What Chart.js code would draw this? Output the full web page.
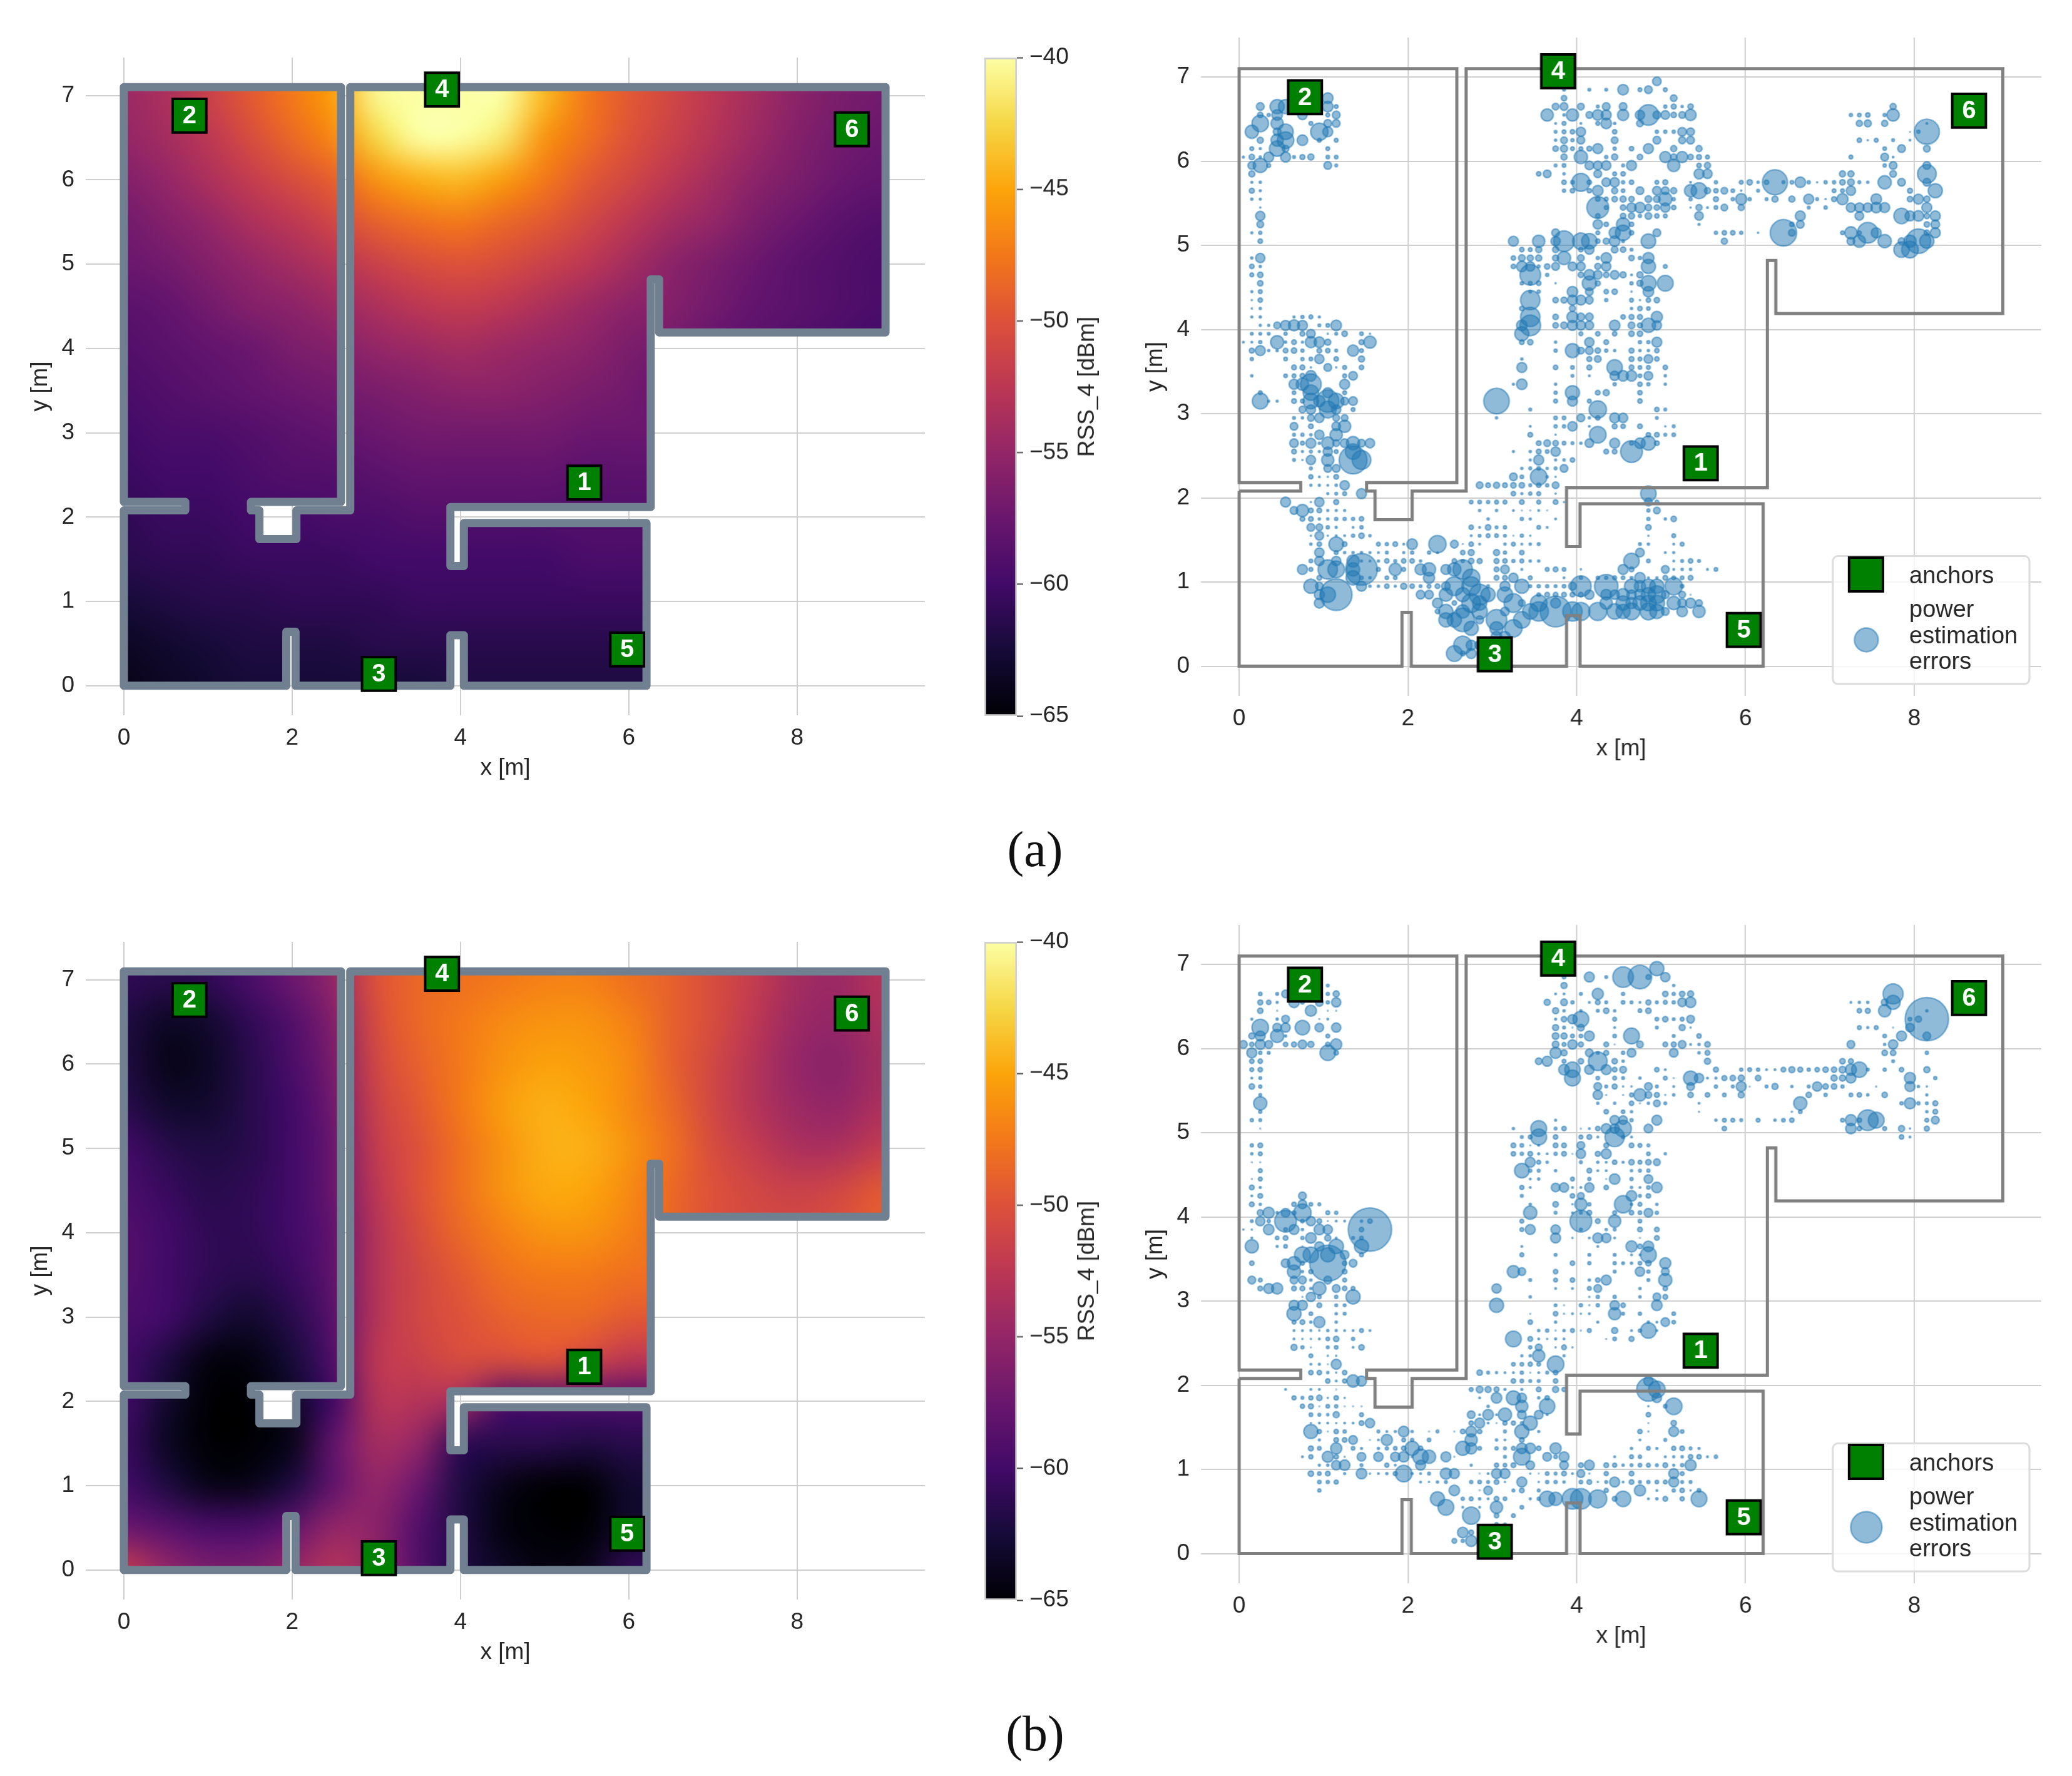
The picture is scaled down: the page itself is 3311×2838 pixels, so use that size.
<!DOCTYPE html>
<html>
<head>
<meta charset="utf-8">
<style>
  body { margin: 0; background: #fff; }
  #page { position: relative; width: 3311px; height: 2838px; overflow: hidden; }
  canvas { position: absolute; }
  .caption { position: absolute; width: 200px; text-align: center; font: 80px "Liberation Serif", serif; color: #111; }
</style>
<script src="https://cdn.jsdelivr.net/npm/chart.js@4/dist/chart.umd.min.js"></script>
</head>
<body>
<div id="page">
  <canvas id="heatA"></canvas><canvas id="barA"></canvas><canvas id="errA"></canvas>
  <canvas id="heatB"></canvas><canvas id="barB"></canvas><canvas id="errB"></canvas>
  <div class="caption" style="left:1554px;top:1312px">(a)</div>
  <div class="caption" style="left:1554px;top:2725px">(b)</div>
</div>
<script>
// floor plan outline [m]
const wallX = [0,0.73,0.73,0,0,2.58,2.58,1.51,1.51,1.61,1.61,2.05,2.05,2.69,2.69,9.05,9.05,6.36,6.36,6.26,6.26,3.88,3.88,4.04,4.04,6.21,6.21,4.04,4.04,3.88,3.88,2.04,2.04,1.93,1.93,0,0];
const wallY = [2.08,2.08,2.18,2.18,7.1,7.1,2.18,2.18,2.08,2.08,1.74,1.74,2.08,2.08,7.1,7.1,4.19,4.19,4.82,4.82,2.12,2.12,1.42,1.42,1.93,1.93,0,0,0.6,0.6,0,0,0.64,0.64,0,0,2.08];

const anchorNames = ["1","2","3","4","5","6"];
const anchorX = [5.47,0.78,3.03,3.78,5.98,8.65];
const anchorY = [2.41,6.76,0.14,7.07,0.43,6.6];

const colorbarTicks = [-65,-60,-55,-50,-45,-40];
const infernoStops = ["#000004","#160b39","#420a68","#6a176e","#932667","#bc3754","#dd513a","#f37819","#fca50a","#f6d746","#fcffa4"];

// RSS_4, one row per y, x = 0, 0.5 ... 9 (rows stop where the building ends)
const gridXs = [0,0.5,1,1.5,2,2.5,3,3.5,4,4.5,5,5.5,6,6.5,7,7.5,8,8.5,9];
const gridYs = [7,6.5,6,5.5,5,4.5,4,3.5,3,2.5,2,1.5,1,0.5,0];
const rssA = [
  [-54.5,-53.5,-51.5,-49.5,-47.5,-45.2,-40.5,-38.5,-38,-39.5,-44,-47.5,-49.5,-51,-52.5,-54,-55.5,-56.5,-57],
  [-55,-54,-52.5,-50.5,-48.5,-46.5,-42.5,-39.5,-39.5,-41.5,-46,-48,-50,-51.5,-53,-54.5,-56,-57,-57.5],
  [-56,-55,-53.5,-52,-50.5,-49,-46,-44.5,-44,-45.5,-47.5,-49.5,-51,-52.5,-54,-55.5,-56.5,-57.5,-58],
  [-57,-56,-55,-53.5,-52.5,-51,-49,-48,-47.5,-48.5,-49.5,-51,-52.5,-54,-55,-56.5,-57.5,-58.5,-59],
  [-57.5,-57,-56,-55,-54,-53,-51.5,-50.5,-50,-50.5,-51.5,-52.5,-54,-55.5,-56.5,-57.5,-58.5,-59,-59.5],
  [-58.5,-58,-57,-56,-55.5,-54.5,-53.5,-52.5,-52,-52.5,-53.5,-54.5,-55.5,-56,-57,-58,-58.5,-59,-59.5],
  [-59,-58.5,-58,-57.5,-56.5,-56,-55,-54.5,-54,-54.5,-55,-55.5,-56.5,-57,-58,-58.5,-59,-59.5,-60],
  [-59.5,-59,-58.5,-58,-57.5,-57,-56.5,-56,-55.5,-55.5,-56,-56.5,-57,-58],
  [-60,-59.5,-59.5,-59,-58.5,-58,-57.5,-57,-57,-57,-57,-57.5,-57.5],
  [-60.5,-60,-60,-59.5,-59,-59,-58.5,-58,-58,-58,-58,-58.5,-58.5],
  [-61,-60.5,-60.5,-60,-60,-59.5,-59.5,-59,-59,-59,-59,-59,-59],
  [-61.5,-61,-61,-60.5,-60.5,-60.5,-60,-60,-60,-60,-60,-59.5,-59.5],
  [-62.5,-62,-61.5,-61.5,-61,-61,-61,-60.5,-60.5,-60.5,-60.5,-60.5,-60.5],
  [-63.5,-63,-62.5,-62,-62,-62,-61.5,-61.5,-61.5,-61.5,-61.5,-61.5,-61.5],
  [-64,-63.5,-63,-62.5,-62.5,-62.5,-62.5,-62.5,-62,-62,-62,-62,-62]
];
const rssB = [
  [-61,-61.5,-61,-59.5,-57.5,-55,-50,-48.5,-48,-47.5,-47,-47,-48,-49,-50.5,-52,-54,-54.5,-53],
  [-62,-63.5,-63,-61,-59,-56,-50.5,-48.5,-47.5,-46.5,-46,-46,-47,-49,-50.5,-52.5,-54.5,-55,-53.5],
  [-62,-64,-63.5,-61.5,-59.5,-56.5,-51,-49,-47.5,-46,-45.2,-45.5,-46.5,-49,-51,-53,-55,-55.5,-54],
  [-61.5,-63,-63,-61.5,-60,-57,-51.5,-49.5,-47.5,-45.5,-44.5,-45,-46.5,-48.5,-51,-53,-54.5,-55,-53.5],
  [-60,-61.5,-62,-61.5,-60,-57.5,-52,-50,-48,-46,-44.5,-44.5,-46,-48,-50.5,-52,-53.5,-53.5,-52],
  [-59.5,-60.5,-61.5,-61,-60,-57.5,-52.5,-50,-48,-46,-44.8,-45,-46.5,-48.5,-50,-51,-51.5,-51,-49.5],
  [-59,-60,-61,-61,-60,-58,-53,-50.5,-48.5,-47,-46,-46,-47,-48.5,-50,-50.5,-50.5,-50,-49],
  [-59,-60,-61,-61.5,-60.5,-58,-53,-51,-49.5,-48,-47.5,-47.5,-48],
  [-59.5,-60,-62,-63,-61.5,-58.5,-53,-51,-50,-49,-48.5,-48.5,-49.5],
  [-60,-62,-64.5,-64.5,-62.5,-59,-52.5,-51.5,-50.5,-50.5,-50,-51,-52.5],
  [-60,-63,-65,-65,-63.5,-60,-53,-53,-54,-59,-59,-59,-59],
  [-60.5,-63.5,-65,-65,-64,-58,-54,-55,-61,-61.5,-61.5,-62,-61.5],
  [-60,-62,-64,-64,-62,-58,-55,-57.5,-62,-64,-65,-65,-63],
  [-57.5,-58.5,-59.5,-59.5,-58,-55,-55.5,-59,-62,-64.5,-65,-65,-63],
  [-52,-55,-56.5,-56.5,-55,-53,-55,-59,-62,-63.5,-64.5,-64,-61]
];

// power estimation errors: [row, col, err, col, err ...], x = 0.05 + col/10, y = 0.05 + row/10
const errA = [
  [69, 49,3],
  [68, 38,.3, 41,.3, 43,.3, 45,4.5, 47,.6, 48,2.4, 50,.6],
  [67, 10,4.5, 38,1.2, 51,1.8],
  [66, 2,2.4, 4,8, 5,8, 10,4.5, 11,.6, 37,1.8, 38,2.4, 40,1.8, 42,.3, 43,2.4, 45,2.4, 50,.4, 51,1, 52,.2, 53,1.2, 77,1.5],
  [65, 2,1.2, 3,.4, 4,4.5, 7,3.5, 10,.6, 11,2.4, 36,6, 38,.2, 39,6, 41,1.8, 42,4.5, 43,4, 45,5, 47,3.5, 48,17, 49,2.4, 50,3, 51,1.2, 52,1.8, 53,5, 72,.4, 73,.5, 74,.8, 76,.4, 77,6],
  [64, 2,11, 4,6, 8,.6, 10,2.4, 11,2.4, 37,.1, 38,.6, 40,.1, 42,.6, 43,4.5, 44,.2, 47,1.8, 73,1.5, 74,2, 76,1.5, 81,.1],
  [63, 1,7, 4,2.4, 5,9.5, 9,12, 10,4, 37,.3, 38,.6, 39,.8, 40,3.5, 44,.8, 49,.4, 50,.4, 51,.4, 52,3, 53,2.4, 79,.02, 80,.4, 81,25],
  [62, 2,1.5, 4,6, 5,11, 7,4.5, 9,.6, 11,.6, 37,.2, 38,1.8, 39,.4, 40,2.4, 44,1.8, 49,2.4, 52,2, 53,2.4, 73,.8, 74,.05, 75,.6, 77,.3, 79,.1],
  [61, 1,.6, 2,.15, 4,9.5, 5,1.8, 10,.6, 37,1.2, 38,2, 39,.6, 40,.6, 41,1, 42,4, 44,.4, 46,.8, 48,4, 51,1.5, 54,1.5, 76,.5, 78,2.4, 81,1.8],
  [60, 0,.15, 1,1.2, 2,.2, 3,4, 5,4, 6,.3, 7,1, 8,1.5, 10,.5, 11,.5, 38,1.5, 40,7, 43,.4, 44,1.5, 47,1.2, 50,5, 51,1.5, 52,5, 53,1.2, 54,1, 55,.6, 72,.6, 76,2.4, 77,.1],
  [59, 1,2.4, 2,8, 3,.6, 10,2.4, 11,.3, 37,.3, 38,.5, 41,3, 42,3, 43,3.5, 45,.3, 46,4, 51,6, 54,.8, 55,1.5, 76,.4, 77,2.4, 81,2.4],
  [58, 1,1.5, 35,.8, 36,2.4, 38,.2, 42,2.4, 44,.6, 45,.8, 54,4, 55,3.5, 71,1.5, 72,1.5, 77,1.8, 81,14],
  [57, 1,.15, 2,.2, 38,.8, 39,.5, 40,13, 41,.8, 43,3, 44,3.5, 45,.4, 46,.8, 49,.6, 50,1, 53,.1, 56,.4, 59,.6, 60,1.2, 61,.2, 62,.8, 63,25, 64,.3, 65,.5, 66,4.5, 67,.4, 68,.05, 69,.4, 70,.4, 71,1.2, 72,1.8, 73,.3, 74,.2, 76,7, 78,2.4, 81,2.4],
  [56, 1,1, 2,.15, 38,.4, 39,.8, 41,.8, 42,4.5, 44,1.5, 45,.5, 47,2.4, 49,3, 50,2.4, 51,1.5, 53,6, 54,10, 55,1.5, 56,.8, 57,1.8, 58,.5, 59,.05, 61,.3, 70,.6, 71,.6, 72,3.5, 79,1, 82,8],
  [55, 1,.2, 2,.15, 42,.8, 43,.6, 44,1.2, 45,1.5, 46,1.2, 48,1.8, 49,1.8, 50,7, 51,.4, 53,.4, 56,1, 58,.4, 59,5, 60,.4, 62,.3, 63,1.5, 65,1.5, 67,4, 68,.3, 69,.05, 70,1, 71,5, 75,4.5, 79,1.2, 80,4, 81,1.5],
  [54, 2,.05, 42,19, 43,.6, 45,1.2, 46,3.5, 47,4.5, 48,1.8, 49,1.2, 50,3.5, 51,.8, 53,.05, 54,1.5, 55,.1, 56,.5, 57,1.8, 59,1.5, 67,.3, 69,.4, 72,3.5, 73,3.5, 74,3.5, 75,4.5, 76,4, 81,4],
  [53, 2,3.5, 42,.8, 45,1.2, 46,1.5, 47,.4, 48,1.8, 49,.8, 50,.6, 54,3, 66,4, 73,3, 78,9.5, 79,4, 80,4.5, 81,1.2, 82,4],
  [52, 2,1.8, 42,3.5, 43,.8, 45,7, 46,.8, 54,.15, 65,.8, 66,2.4, 81,1.2, 82,3],
  [51, 1,.15, 2,.4, 37,2.4, 42,.6, 44,5, 45,9.5, 46,.8, 49,2.4, 56,.4, 57,.8, 58,.8, 59,.4, 61,.05, 64,28, 65,1.8, 71,.6, 72,6, 73,.6, 74,17, 75,4, 81,1.2, 82,4],
  [50, 2,.8, 32,4, 35,6, 37,3.5, 38,17, 40,11, 41,9.5, 42,.8, 43,1.5, 44,4.5, 45,.3, 48,8.5, 57,1.5, 72,2.4, 73,6, 76,7, 78,1.8, 79,6, 80,24, 81,8],
  [49, 33,.8, 34,.6, 35,1.5, 37,1.5, 40,.8, 41,3.5, 44,1.8, 45,1.2, 46,.3, 78,9.5, 79,11],
  [48, 1,.2, 2,3.5, 32,.8, 33,1.8, 34,1.5, 35,1.5, 37,1.5, 38,7, 40,1.8, 42,.4, 43,4.5, 46,1.2, 47,.4, 48,5],
  [47, 1,.8, 2,.2, 32,.8, 33,4.5, 34,3.5, 35,.3, 36,1.2, 37,2.4, 39,3, 40,3, 42,1.5, 43,3.5, 48,8, 50,.6],
  [46, 1,.6, 2,1.2, 34,17, 36,.4, 40,1.2, 41,4.5, 42,3, 43,1.2, 44,3, 45,1.5, 46,.1, 47,1.5],
  [45, 2,1.2, 33,.4, 34,.5, 35,.8, 37,.05, 41,8, 42,1, 46,.4, 47,1.5, 48,9.5, 50,10],
  [44, 1,.15, 2,.6, 34,.3, 35,.4, 39,4.5, 41,2.4, 43,.8, 44,1.2, 46,.05, 48,4.5],
  [43, 1,.05, 2,.8, 34,15, 37,1.2, 38,1.5, 39,4, 40,4, 41,2.4, 43,.4, 46,.6, 47,.05, 48,.8, 49,1.2],
  [42, 1,.05, 2,.2, 33,.8, 39,1.5, 46,.2, 47,.8, 48,.5],
  [41, 1,.15, 2,.2, 6,.15, 7,.4, 8,.6, 9,.15, 34,15, 37,1.2, 39,5, 40,2.4, 41,2.4, 45,.8, 46,1, 47,1, 49,5],
  [40, 2,.15, 3,.15, 4,1.8, 5,4, 6,5, 7,4, 9,.3, 10,.5, 11,4.5, 33,4.5, 34,17, 37,1.2, 38,1.8, 39,4, 40,3.5, 41,3, 44,4.5, 46,1.8, 47,1, 48,8, 49,3.5],
  [39, 1,.3, 2,.3, 3,.3, 5,.4, 7,.9, 8,3, 10,.05, 11,.3, 12,1.2, 14,.5, 15,.05, 33,8, 40,.6, 42,.8, 44,.8, 46,1.2, 47,1.2],
  [38, 0,.1, 1,.1, 2,.4, 4,7, 5,.2, 6,.9, 7,.15, 8,5, 9,4.5, 10,1.5, 14,1, 15,6, 33,.9, 34,1.2, 37,.2, 41,3.5, 43,.9, 47,.4, 48,.4, 49,4],
  [37, 1,1, 2,4, 3,.2, 4,.2, 5,.9, 6,1.2, 7,.4, 9,.9, 10,.8, 11,.3, 13,5, 14,.6, 37,.4, 39,8, 40,1.8, 41,2.4, 42,1.2, 43,.4, 44,.2, 46,1, 47,.2, 48,.2, 49,.8],
  [36, 1,.4, 5,.5, 7,.4, 8,.5, 9,3.5, 11,.8, 14,1.5, 33,.2, 41,1, 42,1.8, 46,1, 47,.6, 48,3, 49,.8],
  [35, 6,.9, 7,.9, 8,.05, 10,2.4, 11,.05, 12,.6, 14,.8, 33,4, 37,.8, 39,.5, 41,1, 44,9.5, 46,.9, 47,.5, 48,.6, 50,.8],
  [34, 1,.2, 5,.5, 6,.6, 7,.9, 8,4.5, 12,.6, 13,3, 39,.3, 41,.1, 44,3.5, 45,4.5, 46,4.5, 47,.5, 48,3, 50,.2],
  [33, 6,4, 7,6, 8,17, 12,4, 32,.15, 33,4.5, 37,.2, 44,.4, 47,.8, 48,.4, 50,.2],
  [32, 2,.6, 6,.5, 8,9.5, 10,4, 12,.6, 37,.4, 39,8, 42,.9, 43,1.5, 47,.8],
  [31, 2,10, 3,.15, 4,.15, 6,.9, 7,.6, 8,9.5, 9,5, 10,20, 11,9.5, 12,2.4, 13,3, 30,26, 37,.6, 39,4, 41,.6, 47,.8],
  [30, 7,1.8, 8,3.5, 10,11, 11,3.5, 13,.6, 34,.3, 42,12, 49,.8, 50,.3],
  [29, 6,.3, 7,.2, 8,1.8, 9,3.5, 11,1.8, 12,1.8, 30,.2, 37,.5, 38,.5, 40,2.4, 41,.2, 42,.8, 44,4, 45,3.5, 49,.3],
  [28, 6,2.4, 8,.9, 11,3, 12,6, 34,.1, 37,.4, 38,.4, 39,3.5, 41,.1, 44,1, 45,.8, 47,.9, 50,.05, 51,.3],
  [27, 6,.3, 7,.4, 8,.2, 9,3.5, 11,6, 34,.9, 37,.05, 42,11, 48,.8, 49,.9, 50,.3, 51,.5],
  [26, 6,3, 7,.6, 8,4, 9,.2, 10,6, 11,1.8, 12,3, 13,7, 14,2.4, 15,3.5, 35,.9, 36,1.8, 37,1.2, 38,.5, 39,.3, 40,.2, 41,3, 44,4, 46,.6, 47,4.5, 48,8, 49,.9],
  [25, 6,.9, 7,.15, 8,.3, 9,.15, 10,3.5, 11,.6, 13,9.5, 32,.15, 34,.2, 35,.9, 36,.5, 37,3.5, 43,.9, 44,.9, 46,19],
  [24, 6,.3, 7,.05, 8,3.5, 10,6, 13,31, 14,14, 34,.15, 35,4, 37,.15, 38,.2, 39,.8],
  [23, 8,.3, 10,2.4, 11,2.4, 33,.2, 34,.3, 35,.5, 36,.2, 37,.3, 38,2.4],
  [22, 8,.7, 9,.1, 10,.05, 11,.9, 32,2.4, 33,.5, 35,11, 36,.2, 37,.05],
  [21, 8,.15, 9,.15, 10,.1, 11,.2, 12,3.5, 28,1.8, 29,.9, 30,1.5, 31,.9, 32,1.2, 33,1.2, 34,.3, 35,.8, 36,.4, 37,1.8],
  [20, 10,.15, 11,.3, 12,.6, 14,4, 32,.8, 33,.15, 34,.4, 35,.6, 37,.05, 48,9.5],
  [19, 5,4, 8,.05, 9,3.5, 11,1, 27,.5, 28,.5, 29,.4, 30,.6, 31,.6, 33,.9, 35,.6, 37,.9, 38,.05, 48,2.4, 49,.6],
  [18, 6,2.4, 7,6, 8,.9, 9,.9, 10,.15, 11,.15, 12,.15, 28,.2, 30,.2, 32,.1, 33,.02, 34,.02, 35,.1, 36,.02, 48,.4, 49,1.8],
  [17, 7,.9, 8,.9, 9,.2, 10,.2, 11,.4, 12,.4, 13,.4, 14,.8, 29,.2, 33,.4, 34,.15, 37,.1, 48,.4, 50,.2, 51,1.2],
  [16, 8,2.4, 9,1.8, 10,.4, 11,.15, 13,.1, 14,.4, 27,.8, 28,.1, 29,1.2, 30,.3, 31,.4, 35,.5, 36,.1, 48,1.2],
  [15, 8,.05, 9,3, 10,.05, 11,.1, 12,.1, 13,.4, 14,1.2, 15,.2, 27,.1, 28,.3, 29,.6, 30,.5, 31,.3, 32,.02, 33,.4, 34,.05, 48,.05, 51,.6],
  [14, 8,.2, 9,.8, 11,8.5, 12,.9, 16,.6, 17,.4, 18,.9, 19,.1, 20,4.5, 23,12, 25,2.4, 26,.02, 27,.8, 28,.1, 31,.2, 32,.6, 33,.1, 34,.2, 35,.3, 47,.3, 48,.2, 51,.1, 52,.6],
  [13, 9,3.5, 11,.6, 12,.2, 13,.2, 14,.2, 15,.15, 16,.1, 17,.3, 19,.15, 20,.4, 22,.4, 23,.1, 26,.8, 27,1.5, 30,1.5, 31,.4, 33,.8, 47,3, 50,.1, 51,.15],
  [12, 8,.5, 9,3.5, 11,3.5, 13,6, 14,.15, 15,.1, 16,.2, 17,.8, 18,.3, 19,.8, 20,.8, 21,.2, 25,.8, 26,.4, 27,1.2, 28,1, 30,1, 31,.8, 32,.4, 33,.6, 34,.2, 35,.2, 46,9.5, 48,.5, 51,.1, 52,.3, 53,.8, 54,.3],
  [11, 7,4, 8,.6, 10,15, 11,11, 13,7, 14,40, 16,.6, 18,6, 19,.6, 21,5, 22,7, 24,4, 25,7, 26,15, 30,.9, 31,3, 33,.1, 36,.6, 37,.9, 38,.5, 40,.05, 45,4, 46,.9, 50,2.4, 51,.1, 52,.2, 53,.2, 55,.1, 56,.5],
  [10, 9,.9, 13,8, 14,.5, 15,.2, 17,.5, 18,.5, 22,5, 27,12, 30,.9, 31,.9, 32,3.5, 34,.6, 38,.1, 40,.4, 42,.4, 43,.4, 44,.6, 45,.5, 46,.3, 47,4.5, 48,.1, 49,.15, 50,.9, 51,.5, 52,.5, 53,.9],
  [9, 8,8, 9,2.4, 14,4, 15,.2, 16,.2, 17,.8, 18,.15, 19,1.5, 20,.8, 21,.3, 22,.6, 23,.9, 24,3, 25,14, 27,14, 29,.3, 31,4, 33,8, 34,.3, 35,.4, 36,.4, 37,.3, 38,.5, 39,2.4, 40,17, 43,22, 46,8, 47,5, 48,8, 49,8, 51,12, 52,.5],
  [8, 9,4, 10,9.5, 11,40, 21,3, 22,3, 24,7, 26,8, 28,17, 29,8, 31,9.5, 35,.5, 36,.9, 37,.9, 38,.9, 39,.9, 40,.9, 41,3.5, 43,4.5, 44,3.5, 45,6, 46,3.5, 47,4.5, 48,8, 49,12, 50,2.4, 52,1.8, 53,.02],
  [7, 9,4, 23,4, 25,.8, 27,14, 28,8, 32,14, 33,1.8, 35,11, 37,4, 43,6, 45,8, 46,5, 47,8, 48,9.5, 49,9.5, 51,7, 52,3, 53,4, 54,1.8],
  [6, 23,.8, 24,8, 26,7, 28,9.5, 31,3, 34,9.5, 35,15, 37,38, 39,15, 40,13, 42,13, 44,9.5, 45,8, 46,11, 48,11, 49,8, 50,2.4, 52,4.5, 54,6],
  [5, 24,8, 25,8, 26,22, 28,2.4, 30,17, 33,11],
  [4, 27,8, 30,7, 32,12],
  [3, 30,4.5, 31,4.5],
  [2, 26,13, 27,4, 28,3.5],
  [1, 25,10, 26,.9, 27,4]
];
const errB = [
  [69, 49,8],
  [68, 38,.5, 41,4, 43,.3, 45,17, 47,22, 48,.9, 50,3.5],
  [67, 10,.3, 38,1.5, 51,.2],
  [66, 2,.5, 4,.3, 5,2.4, 10,.4, 11,1.5, 37,.1, 38,.1, 40,.3, 42,5, 45,.4, 50,1.2, 51,.4, 52,1.2, 53,1.5, 77,16],
  [65, 2,1, 3,.8, 4,.15, 6,4.5, 7,.5, 9,2.4, 10,.4, 11,3.5, 36,1.5, 38,1.8, 39,.4, 41,.1, 42,.9, 43,.3, 45,.5, 46,.3, 47,.1, 48,1, 49,.3, 50,.6, 51,.4, 52,3, 53,4.5, 72,.1, 73,.2, 74,.2, 76,1.8, 77,8],
  [64, 2,1.2, 4,.02, 8,5, 10,.02, 11,.02, 37,1.5, 38,.2, 40,.2, 42,.3, 43,1.2, 44,.2, 47,.5, 48,1.2, 73,.8, 74,1, 76,6, 81,.2],
  [63, 1,.15, 4,.2, 5,2.4, 9,.02, 10,.1, 37,.15, 38,1.2, 39,3.5, 40,10, 44,.6, 49,.5, 50,1.2, 51,.3, 52,.6, 53,2.4, 79,.5, 80,1.5, 81,75],
  [62, 2,11, 4,3, 5,3.5, 7,8.5, 9,3, 11,3.5, 37,1.5, 38,.3, 39,.02, 40,1.8, 44,.1, 49,.3, 52,1.5, 53,.05, 73,.6, 74,.15, 75,.6, 77,.02, 79,3],
  [61, 1,1.5, 2,4, 4,7, 5,.2, 10,.6, 37,1.8, 38,1.5, 39,.6, 40,.5, 41,4, 44,.5, 46,10, 51,.3, 54,.8, 76,.5, 78,4, 81,2.4],
  [60, 0,2.4, 1,.8, 2,4, 3,2.4, 5,.8, 6,1, 7,3, 8,1.5, 10,.8, 11,5, 37,1.8, 38,.6, 39,3.5, 40,1, 43,.9, 44,.02, 47,1.8, 50,.9, 51,1, 52,2.4, 53,.1, 54,.2, 55,1.2, 72,2.4, 76,.2, 77,3.5],
  [59, 1,4, 2,.4, 3,.3, 10,9.5, 11,.8, 37,5, 38,1.5, 41,2.4, 42,.3, 43,1, 45,.4, 46,3, 51,3, 54,.2, 55,.9, 76,1.2, 77,1.2, 81,.4],
  [58, 1,.8, 2,.8, 35,1.8, 36,4, 38,.6, 40,1.2, 42,14, 44,1.2, 45,.2, 55,1.5, 71,1.2, 72,1, 77,.3],
  [57, 1,.6, 2,.8, 38,4.5, 39,9.5, 41,3.5, 43,4, 44,.9, 45,1.8, 49,.8, 50,.1, 56,1, 59,.4, 60,.6, 61,.4, 62,.1, 63,.1, 64,.9, 65,1.5, 66,1, 67,.4, 68,.8, 69,1.2, 70,1.2, 71,1.8, 72,5, 73,9.5, 74,.3, 76,.4, 78,.8, 81,1.5],
  [56, 1,.1, 2,.3, 39,10, 42,.5, 44,.6, 45,.3, 47,.2, 50,.6, 51,.02, 53,8, 54,3.5, 55,.1, 56,.15, 57,1, 58,1.2, 59,1.5, 61,1.2, 70,1.5, 71,1.5, 72,4, 79,5, 82,.4],
  [55, 1,1.2, 2,.4, 42,2.4, 43,.3, 44,1, 45,.05, 46,.05, 48,2.4, 49,.3, 51,.1, 53,2.4, 56,.4, 58,.3, 59,4, 60,.02, 62,.3, 63,1.5, 65,.2, 67,.3, 68,3.5, 69,1.2, 70,1.2, 71,.4, 75,.03, 79,4, 80,.2, 81,.05],
  [54, 2,.3, 42,3.5, 43,.02, 45,.02, 46,.6, 47,6, 48,1.8, 49,1, 50,.03, 51,.2, 53,1.2, 55,.8, 57,.5, 59,1.5, 67,1.2, 69,.4, 72,.5, 73,.8, 74,.2, 76,1.2, 81,.15],
  [53, 2,7, 42,.2, 44,.2, 46,.8, 47,.02, 48,.2, 49,1.8, 50,.3, 54,.1, 66,7, 78,.4, 79,5, 80,.4, 81,.3, 82,1],
  [52, 2,.4, 43,.8, 45,.5, 46,.2, 54,.03, 65,.05, 66,.5, 81,.2, 82,.9],
  [51, 1,.4, 2,.3, 37,.15, 44,3.5, 45,3, 46,.4, 49,4, 56,.2, 57,.6, 58,.6, 59,.3, 61,.6, 63,.2, 64,.5, 65,.8, 71,.6, 72,5, 73,.8, 74,17, 75,10, 81,.6, 82,2.4],
  [50, 2,.02, 32,.2, 35,10, 37,.3, 38,.8, 40,.02, 41,.1, 42,.8, 43,4, 44,3.5, 45,11, 48,3, 57,.8, 72,4.5, 73,.8, 76,.6, 78,1.5, 79,.05, 81,1],
  [49, 33,.3, 34,.6, 35,10, 37,.8, 40,.6, 41,.9, 42,.1, 44,15, 45,.4, 46,.1, 78,.8, 79,.1],
  [48, 1,.4, 2,.9, 32,.9, 33,.5, 34,.02, 35,.1, 37,.9, 38,.9, 40,2.4, 43,.9, 46,.9, 47,.6, 48,.3],
  [47, 1,.2, 2,.6, 32,.8, 33,.4, 34,.9, 35,.15, 36,.1, 37,.4, 38,.9, 39,.02, 40,3.5, 42,1, 43,4, 48,.5, 50,.2],
  [46, 1,.02, 2,.02, 34,4, 35,.6, 36,.2, 40,.3, 42,.2, 43,.1, 44,.8, 45,.15, 46,1.2, 47,.6, 48,1.2, 49,1.8],
  [45, 2,.6, 33,8.5, 34,.4, 35,.3, 37,.2, 41,.9, 42,.1, 43,.1, 46,.2, 47,.3, 48,.4],
  [44, 1,.02, 2,.6, 34,.1, 35,.2, 39,.6, 41,.4, 43,.02, 44,4.5, 46,.4, 48,3],
  [43, 1,.9, 2,.15, 33,.7, 34,.1, 37,3, 38,3.5, 39,.1, 40,.1, 41,3.5, 43,.8, 46,.2, 47,.1, 48,.5, 49,4.5],
  [42, 1,.1, 2,.9, 7,2.4, 33,.3, 39,.8, 40,1.8, 46,4.5, 47,.3, 48,.8],
  [41, 1,.9, 2,.2, 6,.8, 7,3, 8,.5, 9,.3, 34,.2, 37,1.2, 39,.05, 40,6, 41,.4, 45,12, 46,.2, 47,.6, 49,.2],
  [40, 2,1.5, 3,5, 4,.2, 5,3, 6,.6, 7,12, 10,.6, 11,.4, 34,7, 37,.3, 39,.1, 40,.3, 41,.9, 44,.6, 46,.8, 47,.5, 48,3, 49,.4],
  [39, 1,.3, 2,3.5, 3,.4, 5,19, 7,.5, 8,3.5, 9,.9, 10,.02, 11,.1, 12,.1, 14,.2, 15,.8, 33,.6, 40,19, 42,.9, 44,6, 47,.5],
  [38, 0,.05, 1,.05, 3,4.5, 5,.5, 6,4, 7,.2, 9,4.5, 10,3.5, 14,.8, 15,75, 33,.6, 34,4, 37,3.5, 40,.3, 43,.2, 44,.3, 47,.9, 49,.9],
  [37, 1,.1, 4,.5, 5,.9, 7,.4, 8,4.5, 10,1.5, 11,.1, 13,.3, 14,.5, 37,4, 39,.05, 41,.1, 42,4, 43,3.5, 44,.1, 47,.02, 49,.9],
  [36, 1,7, 4,.15, 5,.5, 7,.02, 9,3.5, 11,8.5, 14,8, 33,.1, 42,.1, 46,5, 47,.9, 48,4.5],
  [35, 7,10, 8,9.5, 10,8, 12,3, 14,.6, 33,.6, 37,.3, 41,.3, 44,.3, 46,.1, 47,.1, 48,10],
  [34, 1,.8, 5,3, 6,7, 7,.6, 10,52, 12,.8, 13,2.4, 39,.8, 41,.4, 44,.4, 45,.3, 46,.2, 47,.5, 48,1.2, 50,5],
  [33, 6,7, 7,.2, 8,.7, 12,.9, 32,6, 33,2.4, 37,.8, 44,.3, 47,3.5, 48,.4, 50,2.4],
  [32, 1,2.4, 2,.6, 6,2.4, 7,2.4, 8,.2, 10,2.4, 12,.6, 34,.3, 37,.6, 39,.8, 41,.2, 42,.8, 43,4, 48,.3, 50,7],
  [31, 2,.9, 3,4, 4,5, 6,.9, 7,.9, 8,.2, 9,7, 11,2.4, 12,.8, 13,.6, 30,3.5, 37,.1, 39,.1, 41,.6, 42,2.4, 47,.2, 50,.8],
  [30, 7,.02, 8,3.5, 9,.5, 11,.4, 13,8, 34,.2, 41,.05, 42,.4, 44,.4, 47,.2, 49,2.4, 50,.9],
  [29, 6,4, 7,4, 9,.9, 11,.3, 12,.3, 30,8, 37,.3, 38,.02, 40,.4, 41,.03, 42,.4, 44,3.5, 45,.8, 49,4.5],
  [28, 6,8, 8,.5, 11,.2, 12,.3, 34,.02, 37,.8, 38,.03, 39,.1, 40,.05, 41,.1, 44,6, 45,.3, 47,.4, 51,.5],
  [27, 6,.6, 7,.9, 8,.2, 9,5, 11,.2, 34,.8, 37,.2, 42,.15, 48,.2, 49,.1, 50,3, 51,.5],
  [26, 6,.1, 7,.1, 8,.1, 9,.05, 10,.2, 11,.15, 12,.1, 13,.1, 14,.6, 15,.1, 35,.2, 36,.4, 37,.02, 38,.2, 39,.6, 40,.02, 41,.6, 44,1.5, 46,.1, 47,.4, 48,9.5, 49,.1],
  [25, 6,.1, 7,.05, 8,.05, 9,.1, 10,.5, 11,1.2, 13,.4, 32,10, 34,.9, 35,.1, 36,.05, 37,.15, 38,.1, 43,.02, 44,.5, 46,1],
  [24, 6,1.5, 7,.4, 8,.02, 10,.3, 11,.5, 13,.1, 14,1.2, 34,.4, 35,1.8, 37,.05, 38,.9, 39,.05],
  [23, 8,.6, 10,.05, 11,.05, 33,.15, 34,.2, 35,6, 38,.15],
  [22, 8,.1, 9,.15, 10,.02, 11,4, 32,.5, 33,.5, 34,.7, 35,.5, 37,11],
  [21, 8,.8, 9,.8, 10,.2, 11,.05, 12,.8, 28,1.2, 29,.3, 30,.15, 31,.1, 32,.1, 33,.4, 34,.02, 35,.1, 36,.3, 37,.8],
  [20, 10,.8, 11,.1, 12,.7, 13,6, 14,4, 32,.8, 33,.5, 34,.3, 35,.3, 37,.8, 48,3.5],
  [19, 5,.1, 8,.1, 9,.1, 11,.02, 27,.6, 28,1.8, 29,1.5, 30,1, 31,.15, 33,.15, 35,.9, 37,1.5, 38,.7, 48,22, 49,11],
  [18, 6,.7, 7,.3, 8,.7, 9,1.2, 10,.05, 11,.8, 12,.05, 28,.1, 30,4.5, 32,8, 33,3.5, 35,.2, 36,.8, 49,3.5],
  [17, 7,.7, 8,1, 9,.02, 10,.5, 11,.4, 12,.02, 13,.02, 14,.02, 29,.2, 33,6, 36,9.5, 48,.05, 50,.5, 51,11],
  [16, 8,.5, 9,.3, 10,.2, 11,1.5, 14,.6, 27,2.4, 28,.1, 29,4.5, 30,.1, 31,7, 33,3, 35,3, 36,.1, 48,.8],
  [15, 8,.05, 9,.1, 10,.1, 11,.05, 12,.1, 13,.1, 14,.9, 15,3.5, 27,.8, 28,4, 29,.1, 30,.02, 31,.7, 32,.7, 33,.3, 34,8, 48,.02, 51,1.2],
  [14, 8,8, 9,.7, 10,.02, 11,.8, 12,.4, 16,.3, 17,.1, 18,.15, 19,4.5, 20,.2, 22,.02, 23,.3, 25,.02, 26,.9, 27,4.5, 28,.8, 31,.3, 33,8, 35,.15, 47,.8, 48,.03, 51,4, 52,.5],
  [13, 9,.15, 11,.9, 12,.9, 13,3, 15,.02, 16,.1, 17,5, 19,.6, 20,.4, 22,.5, 27,6, 30,.2, 31,.1, 33,.9, 47,.1, 50,.3],
  [12, 8,1, 9,.5, 11,5, 13,.5, 14,.15, 16,.2, 17,.4, 18,.5, 19,.8, 20,8, 21,.8, 26,8, 27,5, 28,.5, 30,.4, 31,.3, 32,.6, 33,4.5, 34,4.5, 35,.8, 37,5, 46,.2, 48,.5, 49,.15, 51,.7, 52,.9, 53,.3, 54,.15],
  [11, 7,.1, 8,.7, 10,5, 11,.8, 12,.03, 14,3, 16,3.5, 18,3.5, 19,4.5, 20,.1, 21,9.5, 22,7, 24,4, 25,.02, 31,.3, 33,11, 36,3, 37,.5, 38,4, 44,.1, 46,.6, 47,.4, 50,.1, 51,.15, 52,.2, 53,.8, 54,.8, 55,.1, 56,.4],
  [10, 9,.15, 10,.2, 11,3.5, 12,4.5, 14,.3, 17,.7, 18,.1, 21,4, 27,.15, 30,.7, 31,.5, 32,.9, 34,3, 38,3, 40,.9, 41,4, 43,.9, 44,.7, 45,.2, 46,.3, 47,.5, 48,.6, 49,.3, 50,.9, 51,.15, 52,.4, 53,5],
  [9, 8,1.2, 9,.5, 10,.9, 12,.15, 14,4.5, 15,.05, 16,.1, 17,.2, 18,.7, 19,11, 20,.15, 21,.1, 22,.3, 24,5, 25,4, 28,.02, 29,.1, 30,4, 31,4, 34,.05, 35,.02, 36,.5, 37,.3, 38,.9, 39,.1, 40,2.4, 41,.03, 43,.7, 46,.9, 51,4, 52,.6],
  [8, 9,.5, 10,.4, 11,.7, 21,.1, 22,.05, 23,.2, 24,.3, 27,.4, 28,.5, 29,.3, 30,.9, 31,.05, 33,4, 35,.05, 36,.4, 37,.4, 38,.2, 40,.5, 41,.9, 42,.05, 43,.3, 44,4, 45,.1, 46,.9, 47,.3, 48,.4, 49,.5, 50,.6, 51,4, 52,.3, 53,.3],
  [7, 9,.4, 25,4.5, 28,.02, 29,3, 32,.3, 33,.9, 35,.3, 43,.7, 47,5, 49,.1, 51,.4, 52,.8, 53,.05, 54,.5],
  [6, 23,8, 26,.4, 27,.6, 28,.2, 29,.1, 30,.9, 31,.5, 34,.15, 35,.4, 36,9.5, 37,7, 39,17, 40,17, 42,13, 44,.9, 45,9.5, 48,.1, 49,.2, 50,.9, 52,.7, 54,10],
  [5, 24,10, 26,.1, 28,.1, 30,6, 33,.5],
  [4, 27,12, 30,.8, 32,.6],
  [3, 30,.4, 31,.2],
  [2, 26,4.5, 27,.9],
  [1, 25,.9, 26,.4, 27,5]
];

const INK = "#262626";
const GRID = "#cfcfcf";
const FONT = '"Liberation Sans", Arial, sans-serif';
const FONT_SIZE = 37;

function place(id, left, top, width, height) {
  const c = document.getElementById(id);
  c.width = width; c.height = height;
  c.style.left = left + "px"; c.style.top = top + "px";
  c.style.width = width + "px"; c.style.height = height + "px";
  return c.getContext("2d");
}

function hexRgb(h) {
  return [1,3,5].map(i => parseInt(h.substr(i,2),16));
}

function infernoRgb(v) {
  const t = Math.min(1, Math.max(0, (v + 65) / 25)) * (infernoStops.length - 1);
  const i = Math.min(infernoStops.length - 2, Math.floor(t));
  const a = hexRgb(infernoStops[i]), b = hexRgb(infernoStops[i+1]);
  return a.map((c,k) => c + (b[k]-c)*(t-i));
}

function axes(xRange, yRange) {
  const title = text => ({ display:true, text, color:INK, font:{family:FONT,size:FONT_SIZE}, padding:0 });
  const ticks = { color:INK, font:{family:FONT,size:FONT_SIZE}, maxRotation:0, autoSkip:false };
  return {
    x: { type:"linear", min:xRange[0], max:xRange[1],
         afterFit:s => { s.height = 107; s.paddingLeft = 0; s.paddingRight = 0; },
         afterBuildTicks:s => { s.ticks = [0,2,4,6,8].map(value => ({value})); },
         grid:{color:GRID,lineWidth:2,drawTicks:false}, border:{display:false}, ticks:{...ticks,padding:15}, title:title("x [m]") },
    y: { type:"linear", min:yRange[0], max:yRange[1],
         afterFit:s => { s.width = 94; s.paddingTop = 0; s.paddingBottom = 0; },
         afterBuildTicks:s => { s.ticks = [0,1,2,3,4,5,6,7].map(value => ({value})); },
         grid:{color:GRID,lineWidth:2,drawTicks:false}, border:{display:false}, ticks:{...ticks,padding:18}, title:title("y [m]") }
  };
}

function wallPoints() { return wallX.map((x,i) => ({x, y:wallY[i]})); }
function anchorPoints() { return anchorX.map((x,i) => ({x, y:anchorY[i]})); }

function anchorDataset() {
  return { type:"scatter", label:"anchors", data:anchorPoints(), order:1, clip:false, anchor:true,
           pointStyle:"rect", pointRadius:38, backgroundColor:"#008000", borderColor:"#000", borderWidth:4 };
}

// white numbers on the anchor squares
const anchorLabels = {
  id:"anchorLabels",
  afterDatasetsDraw(chart) {
    const ctx = chart.ctx;
    chart.data.datasets.forEach((ds,i) => {
      if (!ds.anchor) return;
      chart.getDatasetMeta(i).data.forEach((el,k) => {
        ctx.save();
        ctx.fillStyle = "#fff";
        ctx.font = "bold 40px " + FONT;
        ctx.textAlign = "center";
        ctx.textBaseline = "middle";
        ctx.fillText(anchorNames[k], el.x, el.y + 1);
        ctx.restore();
      });
    });
  }
};

// paints the RSS grid under the walls, clipped to the floor plan
const heatLayer = {
  id:"heatLayer",
  beforeDatasetsDraw(chart) {
    const ds = chart.data.datasets.find(d => d.heat);
    if (!ds) return;
    const {ctx, scales:{x,y}} = chart;
    const off = document.createElement("canvas");
    off.width = gridXs.length; off.height = gridYs.length;
    const octx = off.getContext("2d");
    const img = octx.createImageData(off.width, off.height);
    ds.data.forEach(p => {
      const rgb = infernoRgb(p.v);
      const k = 4 * (gridYs.indexOf(p.y) * off.width + gridXs.indexOf(p.x));
      img.data[k] = rgb[0]; img.data[k+1] = rgb[1]; img.data[k+2] = rgb[2]; img.data[k+3] = 255;
    });
    octx.putImageData(img, 0, 0);
    ctx.save();
    ctx.beginPath();
    wallX.forEach((wx,i) => ctx.lineTo(x.getPixelForValue(wx), y.getPixelForValue(wallY[i])));
    ctx.closePath();
    ctx.clip();
    ctx.imageSmoothingEnabled = true;
    ctx.imageSmoothingQuality = "high";
    const x0 = x.getPixelForValue(-0.25), x1 = x.getPixelForValue(9.25);
    const y0 = y.getPixelForValue(7.25), y1 = y.getPixelForValue(-0.25);
    ctx.drawImage(off, x0, y0, x1-x0, y1-y0);
    ctx.restore();
  }
};

function heatPoints(rows) {
  const pts = [];
  rows.forEach((row,j) => gridXs.forEach((gx,i) => {
    pts.push({x:gx, y:gridYs[j], v: i < row.length ? row[i] : row[row.length-1]});
  }));
  return pts;
}

function makeHeat(id, rows, area) {
  const ctx = place(id, area.left-94, area.top-10, area.right-area.left+94+10, area.bottom-area.top+10+107);
  new Chart(ctx, {
    type:"scatter",
    data:{ datasets:[
      { label:"RSS_4", heat:true, data:heatPoints(rows), pointRadius:0, order:4 },
      { label:"walls", data:wallPoints(), showLine:true, pointRadius:0, order:2, clip:false,
        borderColor:"#708090", borderWidth:13, borderJoinStyle:"round", borderCapStyle:"round" },
      anchorDataset()
    ]},
    options:{ responsive:false, animation:false, events:[], devicePixelRatio:1,
      layout:{autoPadding:false,padding:{top:10,right:10,bottom:0,left:0}},
      plugins:{legend:{display:false},tooltip:{enabled:false}},
      scales:axes([-0.453,9.518],[-0.35,7.45]) },
    plugins:[heatLayer, anchorLabels]
  });
}

function makeColorbar(id, area) {
  const ctx = place(id, area.left-10, area.top-30, 260, area.bottom-area.top+60);
  new Chart(ctx, {
    type:"bar",
    data:{ labels:["RSS_4"], datasets:[{ data:[[-65,-40]], barPercentage:1, categoryPercentage:1,
      borderWidth:3, borderColor:"#d0d0d0", borderSkipped:false,
      backgroundColor(c) {
        if (!c.chart.chartArea) return "#000";
        const s = c.chart.scales.y;
        const grad = c.chart.ctx.createLinearGradient(0, s.getPixelForValue(-65), 0, s.getPixelForValue(-40));
        infernoStops.forEach((col,i) => grad.addColorStop(i/(infernoStops.length-1), col));
        return grad;
      } }]},
    options:{ responsive:false, animation:false, events:[], devicePixelRatio:1,
      layout:{autoPadding:false,padding:{top:30,bottom:30,left:10,right:0}},
      plugins:{legend:{display:false},tooltip:{enabled:false}},
      scales:{
        x:{display:false},
        y:{ position:"right", min:-65, max:-40, afterFit:s => { s.width = 260-10-52; s.paddingTop = 0; s.paddingBottom = 0; },
            afterBuildTicks:s => { s.ticks = colorbarTicks.map(value => ({value})); },
            border:{display:false},
            grid:{drawOnChartArea:false,drawTicks:true,tickLength:10,tickWidth:2,tickColor:"#444"},
            ticks:{color:INK,font:{family:FONT,size:FONT_SIZE},padding:10,
                   callback:v => "\u2212" + Math.abs(v)} }
      } },
    plugins:[{ id:"barTitle", afterDraw(chart) {
      const c = chart.ctx;
      c.save();
      c.translate(chart.chartArea.right + 113, (chart.chartArea.top + chart.chartArea.bottom)/2);
      c.rotate(-Math.PI/2);
      c.fillStyle = INK; c.font = FONT_SIZE + "px " + FONT;
      c.textAlign = "center"; c.textBaseline = "middle";
      c.fillText("RSS_4 [dBm]", 0, 0);
      c.restore();
    } }]
  });
}

function errorPoints(rows) {
  const pts = [];
  rows.forEach(row => {
    for (let i = 1; i < row.length; i += 2) {
      pts.push({ x:0.05 + row[i]/10, y:0.05 + row[0]/10, r:4*Math.sqrt(row[i+1]) });
    }
  });
  return pts;
}

function makeErrors(id, rows, area, legendRadius) {
  const left = area.left-94, top = area.top-10;
  const ctx = place(id, left, top, area.right-area.left+94+10, area.bottom-area.top+10+107);
  const legendBox = {
    id:"legendBox",
    afterDraw(chart) {
      const c = chart.ctx;
      const dy = area.bottom - 1112;
      const X = v => v - left, Y = v => v + dy - top;
      c.save();
      c.beginPath();
      c.roundRect(X(2928), Y(888.6), 314, 204.5, 8);
      c.fillStyle = "rgba(255,255,255,0.8)"; c.fill();
      c.strokeStyle = "#dcdcdc"; c.lineWidth = 3; c.stroke();
      c.fillStyle = "#008000"; c.strokeStyle = "#000"; c.lineWidth = 4;
      c.fillRect(X(2954), Y(891), 54, 54); c.strokeRect(X(2954), Y(891), 54, 54);
      c.beginPath();
      c.arc(X(2981.5), Y(1022.5), legendRadius, 0, 2*Math.PI);
      c.fillStyle = "rgba(31,119,180,0.5)"; c.fill();
      c.strokeStyle = "rgba(31,119,180,0.5)"; c.lineWidth = 2.5; c.stroke();
      c.fillStyle = INK; c.font = "38px " + FONT; c.textBaseline = "alphabetic";
      c.fillText("anchors", X(3050), Y(932));
      c.fillText("power", X(3050), Y(986));
      c.fillText("estimation", X(3050), Y(1028));
      c.fillText("errors", X(3050), Y(1069));
      c.restore();
    }
  };
  new Chart(ctx, {
    type:"bubble",
    data:{ datasets:[
      { label:"power estimation errors", data:errorPoints(rows), order:3,
        backgroundColor:"rgba(31,119,180,0.5)", borderColor:"rgba(31,119,180,0.5)", borderWidth:2.5 },
      { type:"scatter", label:"walls", data:wallPoints(), showLine:true, pointRadius:0, order:2, clip:false,
        borderColor:"#808080", borderWidth:5, borderJoinStyle:"miter" },
      anchorDataset()
    ]},
    options:{ responsive:false, animation:false, events:[], devicePixelRatio:1,
      layout:{autoPadding:false,padding:{top:10,right:10,bottom:0,left:0}},
      plugins:{legend:{display:false},tooltip:{enabled:false}},
      scales:axes([-0.453,9.507],[-0.353,7.47]) },
    plugins:[legendBox, anchorLabels]
  });
}

makeHeat("heatA", rssA, {left:136.8, right:1478, top:92, bottom:1143});
makeHeat("heatB", rssB, {left:136.8, right:1478, top:1505, bottom:2556});
makeColorbar("barA", {left:1572.7, right:1624.4, top:92, bottom:1143.5});
makeColorbar("barB", {left:1572.7, right:1624.4, top:1505, bottom:2556.5});
makeErrors("errA", errA, {left:1919, right:3261.6, top:60, bottom:1112}, 19);
makeErrors("errB", errB, {left:1919, right:3261.6, top:1478, bottom:2530}, 25);
</script>
</body>
</html>
